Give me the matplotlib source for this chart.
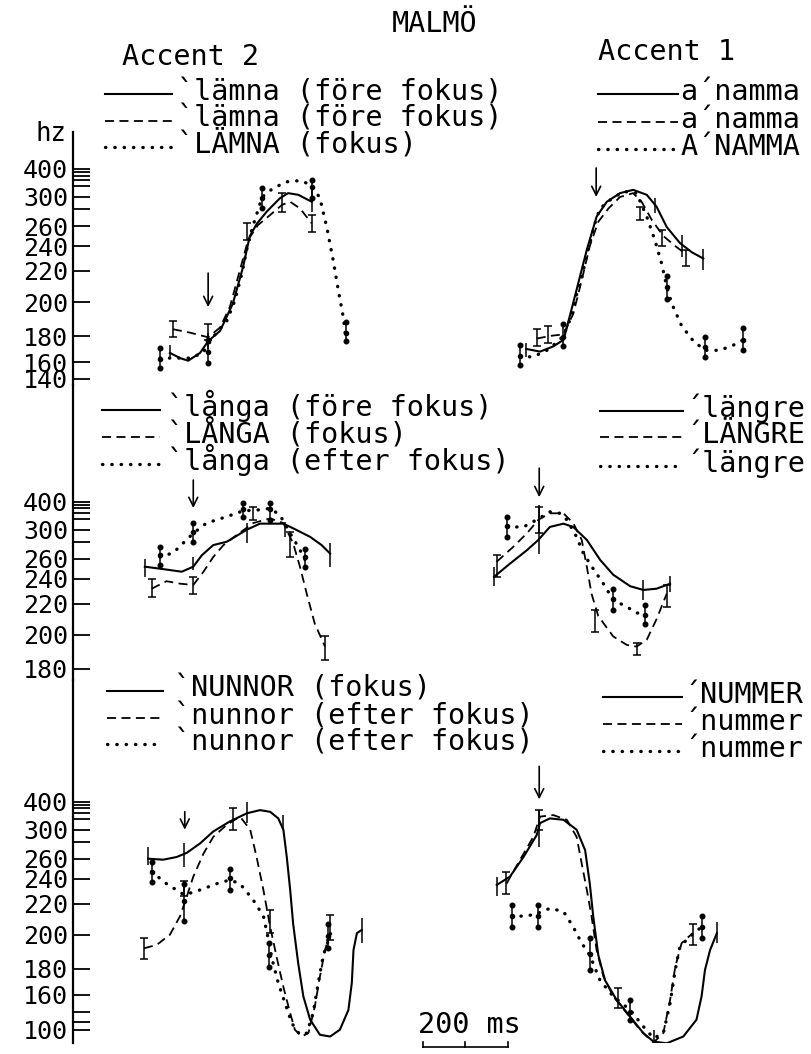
import numpy as np
import matplotlib
matplotlib.use('Agg')
import matplotlib.pyplot as plt
from matplotlib.lines import Line2D
import matplotlib.transforms as mtransforms

plt.rcParams['font.family'] = ['DejaVu Sans Mono', 'DejaVu Sans']

# Hz-skalan (olinjär, avläst från axeln): Hz -> px under 400-strecket
HZ_PTS = np.array([1, 60, 100, 120, 140, 160, 180, 200, 220, 240, 260, 280,
                   300, 320, 340, 360, 380, 400, 420, 2000])
POS_PTS = np.array([300, 245, 228, 220, 210, 193, 167, 133, 102, 77, 57, 40,
                    28, 17, 11, 6.7, 3.3, 0, -3.3, -200])

# ---------------- rad 1: lämna / anamma ----------------
lamna1_ms = [228, 252, 271, 299, 318, 346, 376, 400, 416, 433, 456, 487, 506, 530, 562]
lamna1_hz = [167, 163, 161, 167, 176, 183, 199, 223, 250, 263, 277, 298, 307, 304, 292]
lamna1_bx = [228, 318, 562]
lamna1_lo = [163, 170, 277]
lamna1_hi = [173, 182, 313]

lamna2_ms = [235, 275, 318, 346, 369, 393, 412, 435, 464, 492, 511, 534, 562]
lamna2_hz = [184, 182, 179, 185, 197, 221, 246, 261, 273, 287, 292, 281, 263]
lamna2_bx = [235, 318, 410, 492, 562]
lamna2_lo = [179, 177, 246, 277, 254]
lamna2_hi = [189, 187, 263, 307, 273]

lamna3_ms = [205, 235, 275, 306, 329, 362, 381, 397, 412, 424, 445, 471, 503, 534,
             562, 581, 597, 612, 624, 636, 642]
lamna3_hz = [163, 163, 163, 167, 179, 189, 201, 218, 243, 261, 300, 316, 334, 338,
             323, 298, 259, 229, 208, 191, 178]
lamna3_bx = [205, 318, 445, 562, 642]
lamna3_lo = [153, 159, 282, 298, 176]
lamna3_hi = [171, 177, 316, 340, 188]

anamma1_ms = [1067, 1099, 1130, 1154, 1162, 1185, 1209, 1232, 1256, 1287, 1318, 1350,
              1373, 1397, 1428, 1456, 1483]
anamma1_hz = [170, 168, 172, 177, 185, 208, 237, 271, 292, 307, 313, 304, 284, 259,
              243, 235, 230]
anamma1_bx = [1067, 1369, 1432, 1483]
anamma1_lo = [164, 275, 231, 221]
anamma1_hi = [175, 298, 251, 238]

anamma2_ms = [1091, 1122, 1154, 1177, 1197, 1216, 1236, 1260, 1287, 1318, 1338, 1362,
              1389, 1417, 1444]
anamma2_hz = [178, 180, 181, 193, 214, 240, 265, 281, 300, 307, 292, 267, 250, 240, 233]
anamma2_bx = [1091, 1118, 1334, 1385, 1443]
anamma2_lo = [172, 175, 267, 240, 224]
anamma2_hi = [184, 186, 284, 256, 237]

anamma3_ms = [1052, 1083, 1115, 1146, 1165, 1181, 1197, 1212, 1228, 1240, 1264, 1295,
              1326, 1350, 1369, 1385, 1397, 1409, 1432, 1460, 1487, 1522, 1554, 1577]
anamma3_hz = [164, 164, 169, 177, 186, 201, 216, 237, 263, 281, 295, 310, 307, 271,
              246, 226, 210, 199, 186, 176, 169, 169, 173, 177]
anamma3_bx = [1052, 1154, 1397, 1487, 1577]
anamma3_lo = [156, 172, 202, 164, 169]
anamma3_hi = [173, 187, 217, 179, 185]

# ---------------- rad 2: långa / längre ----------------
langa1_ms = [169, 205, 256, 283, 303, 330, 362, 409, 440, 495, 522, 558, 585, 605]
langa1_hz = [252, 250, 247, 252, 264, 276, 280, 300, 311, 311, 301, 288, 276, 266]
langa1_bx = [169, 283, 409, 498, 605]
langa1_lo = [242, 249, 278, 288, 252]
langa1_hi = [260, 262, 312, 314, 278]

langa2_ms = [185, 220, 252, 283, 307, 330, 354, 385, 424, 464, 495, 518, 534, 550, 569, 593]
langa2_hz = [232, 238, 236, 235, 247, 262, 276, 291, 312, 321, 312, 278, 252, 228, 207, 193]
langa2_bx = [185, 283, 424, 511, 593]
langa2_lo = [225, 228, 318, 262, 185]
langa2_hi = [240, 242, 370, 297, 199]

langa3_ms = [205, 236, 283, 314, 362, 401, 432, 464, 487, 511, 530, 546]
langa3_hz = [262, 267, 294, 312, 327, 349, 352, 360, 332, 294, 274, 259]
langa3_bx = [205, 283, 401, 464, 546]
langa3_lo = [254, 280, 327, 318, 252]
langa3_hi = [274, 312, 390, 395, 272]

langre1_ms = [991, 1028, 1068, 1095, 1122, 1154, 1177, 1209, 1240, 1271, 1311, 1342, 1373, 1405]
langre1_hz = [242, 255, 270, 283, 305, 311, 305, 283, 259, 244, 234, 231, 232, 236]
langre1_bx = [991, 1097, 1342, 1405]
langre1_lo = [234, 266, 223, 229]
langre1_hi = [252, 380, 239, 243]

langre2_ms = [997, 1036, 1068, 1095, 1122, 1154, 1177, 1197, 1209, 1220, 1236, 1271,
              1303, 1326, 1350, 1373, 1397]
langre2_hz = [257, 274, 294, 318, 338, 338, 312, 283, 252, 228, 212, 199, 194, 193,
              197, 210, 228]
langre2_bx = [997, 1097, 1228, 1326, 1397]
langre2_lo = [242, 294, 202, 188, 218]
langre2_hi = [264, 370, 216, 195, 235]

langre3_ms = [1022, 1060, 1091, 1122, 1146, 1162, 1185, 1201, 1224, 1248, 1271, 1303, 1326, 1346]
langre3_hz = [305, 305, 318, 344, 338, 318, 288, 266, 250, 236, 223, 218, 214, 214]
langre3_bx = [1022, 1271, 1346]
langre3_lo = [288, 216, 207]
langre3_hi = [327, 232, 219]

# ---------------- rad 3: nunnor / nummer ----------------
nunnor1_ms = [177, 212, 244, 268, 299, 330, 369, 409, 440, 464, 483, 495, 503, 511, 518,
              530, 542, 558, 581, 605, 628, 648, 656, 660, 668, 679]
nunnor1_hz = [260, 259, 262, 267, 278, 297, 315, 338, 352, 344, 321, 300, 262, 231, 207,
              183, 158, 124, 88, 84, 100, 142, 169, 191, 201, 203]
nunnor1_bx = [177, 262, 409, 495, 679]
nunnor1_lo = [254, 252, 312, 300, 195]
nunnor1_hi = [274, 278, 400, 332, 211]

nunnor2_ms = [167, 197, 228, 252, 268, 283, 307, 330, 362, 393, 417, 432, 448, 464, 479,
              495, 511, 522, 538, 554, 569, 581, 593, 605]
nunnor2_hz = [192, 194, 200, 212, 226, 242, 266, 288, 309, 327, 300, 262, 231, 205, 187,
              166, 137, 100, 84, 92, 146, 174, 191, 201]
nunnor2_bx = [167, 262, 376, 464, 605]
nunnor2_lo = [186, 226, 300, 201, 197]
nunnor2_hi = [198, 238, 360, 216, 213]

nunnor3_ms = [185, 220, 262, 299, 338, 369, 393, 424, 448, 460, 468, 483, 499, 515, 534,
              550, 565, 577, 589, 601, 609]
nunnor3_hz = [247, 236, 227, 231, 236, 239, 236, 223, 212, 197, 186, 169, 150, 116, 88,
              92, 137, 169, 188, 197, 203]
nunnor3_bx = [185, 262, 369, 460, 601]
nunnor3_lo = [237, 209, 231, 181, 192]
nunnor3_hi = [257, 236, 250, 195, 207]

nummer1_ms = [997, 1028, 1060, 1091, 1099, 1122, 1154, 1185, 1205, 1216, 1224, 1236, 1252,
              1279, 1311, 1342, 1366, 1397, 1436, 1467, 1479, 1487, 1499, 1515]
nummer1_hz = [235, 242, 262, 291, 312, 321, 318, 300, 270, 236, 212, 188, 171, 154, 130,
              92, 72, 68, 84, 124, 158, 179, 191, 201]
nummer1_bx = [997, 1097, 1366, 1515]
nummer1_lo = [226, 274, 55, 195]
nummer1_hi = [242, 352, 100, 208]

nummer2_ms = [1020, 1052, 1083, 1099, 1130, 1162, 1185, 1197, 1209, 1220, 1232, 1248, 1271,
              1303, 1334, 1358, 1366, 1389, 1405, 1417, 1432, 1458]
nummer2_hz = [236, 259, 288, 327, 332, 318, 288, 255, 231, 212, 191, 174, 158, 137, 100,
              76, 70, 92, 154, 181, 195, 201]
nummer2_bx = [1020, 1097, 1283, 1458]
nummer2_lo = [228, 300, 144, 194]
nummer2_hi = [247, 352, 165, 207]

nummer3_ms = [1032, 1068, 1095, 1122, 1154, 1177, 1197, 1216, 1240, 1271, 1311, 1342, 1366,
              1389, 1405, 1417, 1428, 1452, 1479]
nummer3_hz = [212, 212, 214, 217, 215, 205, 195, 188, 171, 158, 142, 108, 80, 92, 150,
              179, 193, 199, 205]
nummer3_bx = [1032, 1095, 1216, 1311, 1479]
nummer3_lo = [205, 205, 179, 124, 198]
nummer3_hi = [219, 219, 198, 154, 212]

# pilar (fokusmarkering): tid och Hz vid spetsen
arrow_ms = [[318, 1231], [283, 1097], [263, 1097]]
arrow_hz = [[197, 300], [362, 430], [300, 414]]

# y-etiketter per rad
row_labels = [[400, 300, 260, 240, 220, 200, 180, 160, 140],
              [400, 300, 260, 240, 220, 200, 180],
              [400, 300, 260, 240, 220, 200, 180, 160, 100]]
row_lowest = [140, 180, 100]

left_texts = [["`lämna (före fokus)", "`lämna (före fokus)", "`LÄMNA (fokus)"],
              ["`långa (före fokus)", "`LÅNGA (fokus)", "`långa (efter fokus)"],
              ["`NUNNOR (fokus)", "`nunnor (efter fokus)", "`nunnor (efter fokus)"]]
right_texts = [["a´namma", "a´namma", "A´NAMMA"],
               ["´längre", "´LÄNGRE", "´längre"],
               ["´NUMMER", "´nummer", "´nummer"]]

rows = [
    [(lamna1_ms, lamna1_hz, lamna1_bx, lamna1_lo, lamna1_hi, 'solid'),
     (lamna2_ms, lamna2_hz, lamna2_bx, lamna2_lo, lamna2_hi, 'dashed'),
     (lamna3_ms, lamna3_hz, lamna3_bx, lamna3_lo, lamna3_hi, 'dotted'),
     (anamma1_ms, anamma1_hz, anamma1_bx, anamma1_lo, anamma1_hi, 'solid'),
     (anamma2_ms, anamma2_hz, anamma2_bx, anamma2_lo, anamma2_hi, 'dashed'),
     (anamma3_ms, anamma3_hz, anamma3_bx, anamma3_lo, anamma3_hi, 'dotted')],
    [(langa1_ms, langa1_hz, langa1_bx, langa1_lo, langa1_hi, 'solid'),
     (langa2_ms, langa2_hz, langa2_bx, langa2_lo, langa2_hi, 'dashed'),
     (langa3_ms, langa3_hz, langa3_bx, langa3_lo, langa3_hi, 'dotted'),
     (langre1_ms, langre1_hz, langre1_bx, langre1_lo, langre1_hi, 'solid'),
     (langre2_ms, langre2_hz, langre2_bx, langre2_lo, langre2_hi, 'dashed'),
     (langre3_ms, langre3_hz, langre3_bx, langre3_lo, langre3_hi, 'dotted')],
    [(nunnor1_ms, nunnor1_hz, nunnor1_bx, nunnor1_lo, nunnor1_hi, 'solid'),
     (nunnor2_ms, nunnor2_hz, nunnor2_bx, nunnor2_lo, nunnor2_hi, 'dashed'),
     (nunnor3_ms, nunnor3_hz, nunnor3_bx, nunnor3_lo, nunnor3_hi, 'dotted'),
     (nummer1_ms, nummer1_hz, nummer1_bx, nummer1_lo, nummer1_hi, 'solid'),
     (nummer2_ms, nummer2_hz, nummer2_bx, nummer2_lo, nummer2_hi, 'dashed'),
     (nummer3_ms, nummer3_hz, nummer3_bx, nummer3_lo, nummer3_hi, 'dotted')],
]

STYLE = {'solid': dict(ls='-', lw=1.5),
         'dashed': dict(ls=(0, (5, 3)), lw=1.3),
         'dotted': dict(ls=(0, (0.1, 2.7)), lw=2.4, dash_capstyle='round')}

W, H = 811, 1054
FS = 20.5
TICK_FS = 18

def fwd(h):
    return -np.interp(h, HZ_PTS, POS_PTS)

def inv(v):
    return np.interp(-np.asarray(v), POS_PTS[::-1], HZ_PTS[::-1])

fig = plt.figure(figsize=(W / 100, H / 100), dpi=100)
fig.patch.set_facecolor('white')

# rader: topp, botten, y för 400-strecket (px)
row_box = [(132, 385, 169.0), (385, 680, 501.7), (680, 1043, 801.7)]
arrow_len = [[34, 29], [28, 29], [18, 33]]
ms_per_px = 200 / 85

axes = []
for r, (top, bot, y400) in enumerate(row_box):
    ax = fig.add_axes([73 / W, 1 - bot / H, (W - 73) / W, (bot - top) / H])
    ax.patch.set_visible(False)
    ax.set_yscale('function', functions=(fwd, inv))
    ax.set_ylim(inv(-(bot - y400)), inv(-(top - y400)))
    ax.set_xlim(0, (W - 73) * ms_per_px)
    for s in ['top', 'right', 'bottom']:
        ax.spines[s].set_visible(False)
    ax.spines['left'].set_linewidth(1.6)
    ax.set_xticks([])
    labs = row_labels[r]
    minor = [h for h in range(row_lowest[r], 401, 20) if h not in labs]
    ax.set_yticks(labs, [str(v) for v in labs])
    ax.set_yticks(minor, minor=True)
    ax.tick_params(axis='y', which='both', direction='in', length=12, width=1.3,
                   labelsize=TICK_FS, pad=3.5)

    for ms, hz, bx, lo, hi, kind in rows[r]:
        ax.plot(ms, hz, color='black', **STYLE[kind])
        lo = np.array(lo, float)
        hi = np.array(hi, float)
        c = (lo + hi) / 2
        cap = 3.2 if kind == 'dashed' else 0
        ax.errorbar(bx, c, yerr=[c - lo, hi - c], fmt='none', ecolor='black',
                    elinewidth=1.1, capsize=cap, capthick=1.1)
        if kind == 'dotted':
            ax.plot(bx, lo, 'o', color='black', ms=3.3)
            ax.plot(bx, hi, 'o', color='black', ms=3.3)
            ax.plot(bx, c, 'o', color='black', ms=3.0)

    for x, h, L in zip(arrow_ms[r], arrow_hz[r], arrow_len[r]):
        ax.annotate('', xy=(x, h), xytext=(0, L * 0.72), textcoords='offset points',
                    arrowprops=dict(arrowstyle='->', lw=1.2, color='black',
                                    mutation_scale=16, shrinkA=0, shrinkB=0))
    axes.append(ax)

# skalstreck 200 ms
ax3 = axes[2]
trans = mtransforms.blended_transform_factory(ax3.transData, ax3.transAxes)
bar_x0 = 823
ax3.plot([bar_x0, bar_x0 + 200], [-0.011, -0.011], color='black', lw=1.2,
         transform=trans, clip_on=False)
for tx in [bar_x0, bar_x0 + 100, bar_x0 + 200]:
    ax3.plot([tx, tx], [-0.011, 0.003], color='black', lw=1.2,
             transform=trans, clip_on=False)
ax3.text(bar_x0 + 110, 0.0275, '200 ms', transform=trans, ha='center',
         va='baseline', fontsize=FS)


def fpos(px, py):
    return px / W, 1 - py / H


# rubriker
fig.text(*fpos(392, 32), 'MALMÖ', fontsize=FS, va='baseline')
fig.text(*fpos(122, 65), 'Accent 2', fontsize=FS, va='baseline')
fig.text(*fpos(598, 60), 'Accent 1', fontsize=FS, va='baseline')
fig.text(*fpos(36, 141), 'hz', fontsize=18.5, va='baseline')

# teckenförklaringar: (linje x0, x1, text x, baslinjer)
leg_left = [(105, 172, 177, [100, 127, 153]),
            (102, 160, 167, [416, 443, 470]),
            (107, 163, 174, [697, 724, 750])]
leg_right = [(598, 678, 680, [100, 128, 155]),
             (600, 683, 685, [417, 443, 472]),
             (603, 682, 683, [703, 730, 757])]
kinds = ['solid', 'dashed', 'dotted']
for r in range(3):
    for (x0, x1, tx, bases), texts in [(leg_left[r], left_texts[r]),
                                       (leg_right[r], right_texts[r])]:
        for kind, base, t in zip(kinds, bases, texts):
            (a, yl), (b, _) = fpos(x0, base - 6), fpos(x1, base - 6)
            fig.add_artist(Line2D([a, b], [yl, yl], color='black',
                                  transform=fig.transFigure, **STYLE[kind]))
            fig.text(*fpos(tx, base), t, fontsize=FS, va='baseline')

fig.savefig('out.png', dpi=100, facecolor='white')
